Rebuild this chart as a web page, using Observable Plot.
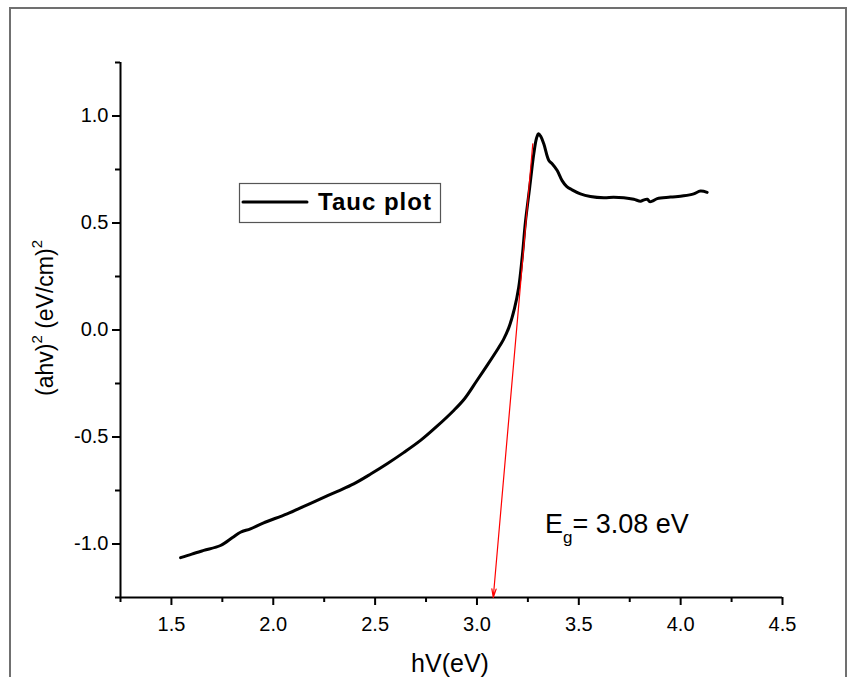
<!DOCTYPE html>
<html><head><meta charset="utf-8">
<script src="https://cdn.jsdelivr.net/npm/d3@7"></script>
<script src="https://cdn.jsdelivr.net/npm/@observablehq/plot@0.6"></script>
<style>
body{margin:0;background:#fff;font-family:"Liberation Sans",Arial,sans-serif;}
#wrap{position:relative;width:855px;height:677px;overflow:hidden;background:#fff;}
#wrap svg{position:absolute;left:0;top:0;}
#frame{position:absolute;left:9px;top:7px;width:838px;height:720px;border:2px solid #707070;box-sizing:border-box;pointer-events:none;}
</style></head><body><div id="wrap"></div>
<script>
// Photon energy hV (eV)
const energy = [1.545,1.600,1.659,1.741,1.800,1.839,1.888,1.950,2.068,2.150,2.232,2.315,2.395,2.480,2.559,2.640,2.723,2.800,2.886,2.940,3.000,3.050,3.100,3.130,3.156,3.184,3.205,3.222,3.238,3.259,3.279,3.292,3.302,3.313,3.328,3.353,3.369,3.394,3.418,3.440,3.467,3.508,3.557,3.623,3.670,3.721,3.770,3.803,3.820,3.836,3.848,3.860,3.885,3.950,4.015,4.064,4.097,4.130];
// (ahv)^2 values
const tauc = [-1.064,-1.047,-1.030,-1.007,-0.970,-0.945,-0.929,-0.902,-0.859,-0.824,-0.789,-0.754,-0.719,-0.672,-0.625,-0.573,-0.516,-0.453,-0.376,-0.320,-0.236,-0.165,-0.092,-0.045,0.010,0.100,0.200,0.340,0.505,0.667,0.823,0.895,0.917,0.905,0.870,0.792,0.777,0.745,0.698,0.671,0.655,0.636,0.624,0.618,0.620,0.618,0.611,0.602,0.608,0.611,0.600,0.602,0.614,0.621,0.627,0.636,0.649,0.643];
// Tangent (extrapolation) line: start and end
const fitStart = [3.274, 0.870];
const fitEnd = [3.08, -1.25];
const bandGap = "3.08 eV";
const xMajor = [1.5,2.0,2.5,3.0,3.5,4.0,4.5];
const xMinor = [1.25,1.75,2.25,2.75,3.25,3.75,4.25];
const yMajor = [-1.0,-0.5,0.0,0.5,1.0];
const yMinor = [-1.25,-0.75,-0.25,0.25,0.75,1.25];
const xDomain = [1.25, 4.5];
const yDomain = [-1.25, 1.25];
const seriesName = "Tauc plot";

const data = energy.map((x, i) => ({x, y: tauc[i]}));
const fit = [{x1: fitStart[0], y1: fitStart[1], x2: fitEnd[0], y2: fitEnd[1]}];
const fmt = d => d.toFixed(1);

const plot = Plot.plot({
  width: 855, height: 677,
  marginLeft: 120, marginRight: 73, marginTop: 62, marginBottom: 80,
  x: {domain: xDomain},
  y: {domain: yDomain},
  style: {fontFamily: "Liberation Sans, Arial, sans-serif", fontSize: "20px", color: "black", background: "transparent", overflow: "visible"},
  marks: [
    Plot.axisX(xMajor, {tickSize: 8, tickPadding: 11, tickFormat: fmt, label: null, strokeWidth: 2}),
    Plot.axisX(xMinor, {tickSize: 5, text: null, label: null, strokeWidth: 2}),
    Plot.axisY(yMajor, {tickSize: 8, tickPadding: 4, tickFormat: fmt, label: null, strokeWidth: 2}),
    Plot.axisY(yMinor, {tickSize: 5, text: null, label: null, strokeWidth: 2}),
    Plot.ruleX([xDomain[0]], {strokeWidth: 2}),
    Plot.ruleY([yDomain[0]], {strokeWidth: 2}),
    Plot.line(data, {x: "x", y: "y", stroke: "black", strokeWidth: 3, strokeLinejoin: "round", strokeLinecap: "round", curve: "catmull-rom"}),
    Plot.arrow(fit, {x1: "x1", y1: "y1", x2: "x2", y2: "y2", stroke: "red", strokeWidth: 1.2, headLength: 11, headAngle: 28})
  ]
});

const svg = d3.select(plot);
// x label
svg.append("text").attr("x", 450).attr("y", 672).attr("text-anchor", "middle")
  .style("font-size", "25px").attr("fill", "black").text("hV(eV)");
// y label
const yl = svg.append("text").attr("transform", "translate(53,318) rotate(-90)")
  .attr("text-anchor", "middle").style("font-size", "23px").attr("fill", "black");
yl.append("tspan").text("(ahv)");
yl.append("tspan").attr("dy", -11).style("font-size", "15px").text("2");
yl.append("tspan").attr("dy", 11).text(" (eV/cm)");
yl.append("tspan").attr("dy", -11).style("font-size", "15px").text("2");
// legend
const lg = svg.append("g");
lg.append("rect").attr("x", 239.5).attr("y", 183.5).attr("width", 201).attr("height", 39)
  .attr("fill", "white").attr("stroke", "#555").attr("stroke-width", 1.2);
lg.append("line").attr("x1", 243).attr("x2", 307).attr("y1", 202).attr("y2", 202)
  .attr("stroke", "black").attr("stroke-width", 3).attr("stroke-linecap", "round");
lg.append("text").attr("x", 318).attr("y", 210).attr("text-anchor", "start")
  .style("font-size", "24px").style("font-weight", "bold")
  .style("letter-spacing", "1px").attr("fill", "black").text(seriesName);
// band gap annotation
const eg = svg.append("text").attr("x", 545).attr("y", 533).attr("text-anchor", "start")
  .style("font-size", "27px").attr("fill", "black");
eg.append("tspan").text("E");
eg.append("tspan").attr("dy", 10).style("font-size", "17px").text("g");
eg.append("tspan").attr("dy", -10).text("= " + bandGap);

const wrap = document.getElementById("wrap");
wrap.appendChild(plot);
const frame = document.createElement("div");
frame.id = "frame";
wrap.appendChild(frame);
</script></body></html>
